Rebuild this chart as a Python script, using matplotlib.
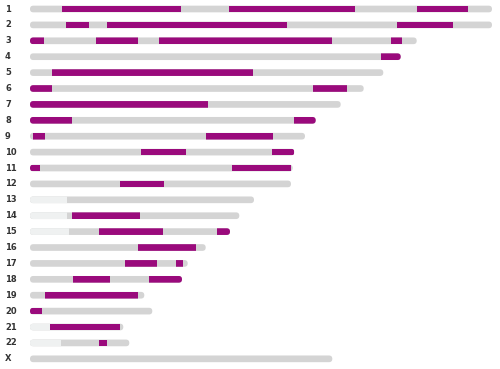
import matplotlib.pyplot as plt
from matplotlib.patches import FancyBboxPatch

# chromosome labels and lengths (relative units)
chroms = ['1', '2', '3', '4', '5', '6', '7', '8', '9', '10', '11', '12',
          '13', '14', '15', '16', '17', '18', '19', '20', '21', '22', 'X']
lengths = [462, 462, 386.7, 370.7, 353.3, 333.7, 310.7, 285.7, 275, 264.3,
           262.7, 261, 224, 209.3, 200, 175.7, 157.7, 152, 114.3, 122.3,
           93.3, 99.3, 302.3]

# highlighted (purple) segments per chromosome
purple = [
    [(32.3, 150.7), (199.3, 324.7), (387, 438.3)],
    [(36, 58.7), (77, 257), (367.3, 422.7)],
    [(0, 14.3), (66.3, 107.7), (128.7, 301.7), (360.7, 372)],
    [(351.3, 370.7)],
    [(21.7, 222.7)],
    [(0, 22.3), (283, 316.7)],
    [(0, 177.7)],
    [(0, 41.7), (263.7, 285.7)],
    [(3.3, 15), (176, 243)],
    [(111.3, 156), (241.7, 264.3)],
    [(0, 10), (201.7, 260.7)],
    [(90, 134)],
    [],
    [(41.7, 110.3)],
    [(69.3, 133.3), (187.3, 200)],
    [(107.7, 166.3)],
    [(94.7, 126.7), (146, 152.7)],
    [(42.7, 80), (118.7, 152)],
    [(15.3, 108.3)],
    [(0, 11.7)],
    [(20, 89.7)],
    [(69, 76.7)],
    [],
]

# short-arm regions drawn in very light grey
light = {12: (0, 37), 13: (0, 37.3), 14: (0, 39), 20: (0, 20), 21: (0, 31)}

PURPLE = '#9a0a7c'
GREY = '#d4d4d4'
LIGHT = '#eff1f1'
bar_h = 0.42

fig = plt.figure(figsize=(5, 3.69), dpi=100)
ax = fig.add_axes([30 / 500, 0, 470 / 500, 1])
ax.set_xlim(0, 470)
ax.set_ylim(22.64, -0.566)
ax.axis('off')

row_px = 15.9
for i, name in enumerate(chroms):
    outline = FancyBboxPatch((0, i - bar_h / 2), lengths[i], bar_h,
                             boxstyle='round,pad=0,rounding_size=3.3',
                             mutation_aspect=1 / row_px,
                             facecolor=GREY, edgecolor='none')
    ax.add_patch(outline)
    segs = []
    if i in light:
        s, e = light[i]
        segs += ax.barh(i, e - s, left=s, height=bar_h, color=LIGHT).patches
    for s, e in purple[i]:
        segs += ax.barh(i, e - s, left=s, height=bar_h, color=PURPLE).patches
    for p in segs:
        p.set_clip_path(outline)
    ax.text(-25, i, name, ha='left', va='center', fontsize=6,
            fontweight='bold', color='#333333', clip_on=False)

fig.savefig('out.png', dpi=100)
